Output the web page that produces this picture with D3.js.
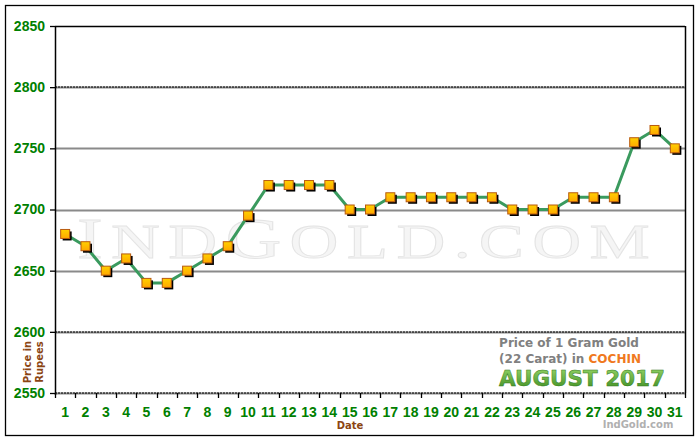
<!DOCTYPE html>
<html><head><meta charset="utf-8">
<script src="https://cdn.jsdelivr.net/npm/d3@7"></script>
<style>body{margin:0;background:#fff;}svg{display:block;}</style>
</head><body>
<svg id="c" width="700" height="440"></svg>
<script>
const days = d3.range(1, 32).map(String);
const prices = [2680,2670,2650,2660,2640,2640,2650,2660,2670,2695,2720,2720,2720,2720,2700,2700,2710,2710,2710,2710,2710,2710,2700,2700,2700,2710,2710,2710,2755,2765,2750];
const yTicks = [2550,2600,2650,2700,2750,2800,2850];
const dottedTicks = [2550,2600,2800];

const svg = d3.select("#c");
const L = 55, R = 685, T = 26, B = 393;
const x = d3.scaleBand().domain(days).range([L, R]).padding(0);
const y = d3.scaleLinear().domain([2550, 2850]).range([B, T]);
const af = "Liberation Sans, Arial, sans-serif";
const tf = "DejaVu Sans, Verdana, sans-serif";

// outer border
svg.append("rect").attr("x",5.5).attr("y",5.5).attr("width",688).attr("height",430)
  .attr("fill","#fff").attr("stroke","#000").attr("stroke-width",1.3);

// watermark
const wm = svg.append("text").attr("x",77).attr("y",258)
  .attr("font-family","Liberation Serif, DejaVu Serif, serif")
  .attr("fill","#f5f5f5").attr("stroke","#e4e4e4").attr("stroke-width",0.8)
  .attr("letter-spacing",6)
  .attr("textLength",581).attr("lengthAdjust","spacingAndGlyphs");
[["I",56],["ND",49],["G",56],["OLD.COM",49]].forEach(([t,fs]) => wm.append("tspan").attr("font-size",fs).text(t));

// gridlines
yTicks.filter(v => v !== 2850).forEach(v => {
  const yy = Math.round(y(v)) + 0.5;
  svg.append("line").attr("x1",L).attr("x2",R).attr("y1",yy).attr("y2",yy)
    .attr("stroke","#8a8a8a").attr("stroke-width",2);
  if (dottedTicks.includes(v)) {
    svg.append("line").attr("x1",L).attr("x2",R).attr("y1",yy-0.5).attr("y2",yy-0.5)
      .attr("stroke","#000").attr("stroke-width",1).attr("stroke-dasharray","2,1");
  }
});

// plot frame: top, left, right
svg.append("line").attr("x1",L).attr("x2",R).attr("y1",T+0.5).attr("y2",T+0.5).attr("stroke","#000").attr("stroke-width",1.5);
svg.append("line").attr("x1",L+0.5).attr("x2",L+0.5).attr("y1",T).attr("y2",B+2).attr("stroke","#000").attr("stroke-width",1.5);
svg.append("line").attr("x1",R+0.5).attr("x2",R+0.5).attr("y1",T).attr("y2",B).attr("stroke","#000").attr("stroke-width",1.5);

// y axis
const yAxis = d3.axisLeft(y).tickValues(yTicks).tickSize(5).tickPadding(5).tickFormat(d3.format("d"));
const gy = svg.append("g").attr("transform",`translate(${L},0)`).call(yAxis);
gy.select(".domain").remove();
gy.selectAll(".tick line").attr("stroke","#000").attr("stroke-width",1.3);
gy.selectAll("text").attr("fill","#008000").attr("font-family",af)
  .attr("font-size",14).attr("font-weight","bold");

// x axis: ticks at band boundaries
svg.selectAll(".xt").data(days.concat(["end"])).enter().append("line")
  .attr("x1", (d,i) => Math.round(L + i * x.step()) + 0.5)
  .attr("x2", (d,i) => Math.round(L + i * x.step()) + 0.5)
  .attr("y1", B).attr("y2", B + 5).attr("stroke","#000").attr("stroke-width",1.3);
svg.selectAll(".xl").data(days).enter().append("text")
  .attr("x", d => x(d) + x.bandwidth()/2).attr("y", 417).attr("text-anchor","middle")
  .attr("fill","#008000").attr("font-family",af)
  .attr("font-size",14).attr("font-weight","bold").text(d => d);

// axis titles
svg.append("text").attr("x",350).attr("y",429).attr("text-anchor","middle")
  .attr("fill","#8b4513").attr("font-family",tf)
  .attr("font-size",10).attr("font-weight","bold").text("Date");
const yt = svg.append("text")
  .attr("fill","#8b4513").attr("font-family",tf)
  .attr("font-size",10).attr("font-weight","bold").attr("text-anchor","middle");
yt.append("tspan").attr("x",0).attr("y",0).text("Price in");
yt.append("tspan").attr("x",0).attr("y",12).text("Rupees");
yt.attr("transform","translate(31,362) rotate(-90)");

// title box (lower right)
svg.append("text").attr("x",569).attr("y",347).attr("text-anchor","middle")
  .attr("fill","#808080").attr("font-family",tf).attr("font-size",12).attr("font-weight","bold")
  .text("Price of 1 Gram Gold");
const t2 = svg.append("text").attr("x",570).attr("y",363).attr("text-anchor","middle")
  .attr("font-family",tf).attr("font-size",12).attr("font-weight","bold");
t2.append("tspan").attr("fill","#808080").text("(22 Carat) in ");
t2.append("tspan").attr("fill","#f07820").text("COCHIN");
const defs = svg.append("defs");
const gg = defs.append("linearGradient").attr("id","gg").attr("x1",0).attr("x2",0).attr("y1",0).attr("y2",1);
gg.append("stop").attr("offset","0%").attr("stop-color","#9ad86a");
gg.append("stop").attr("offset","100%").attr("stop-color","#3a8a20");
svg.append("text").attr("x",499).attr("y",386)
  .attr("fill","url(#gg)").attr("stroke","#2f7a1c").attr("stroke-width",0.5)
  .attr("font-family","DejaVu Sans, sans-serif").attr("font-size",22).attr("font-weight","bold")
  .attr("textLength",166).attr("lengthAdjust","spacingAndGlyphs")
  .text("AUGUST 2017");
svg.append("text").attr("x",638).attr("y",428).attr("text-anchor","middle")
  .attr("fill","#b0b0b0").attr("font-family",tf).attr("font-size",10).attr("font-weight","bold")
  .text("IndGold.com");

// line
const pts = days.map((d,i) => ({d, v: prices[i]}));
const line = d3.line().x(p => x(p.d) + x.bandwidth()/2).y(p => y(p.v));
svg.append("path").datum(pts).attr("d", line).attr("fill","none")
  .attr("stroke","#3a9a5e").attr("stroke-width",3).attr("stroke-linejoin","round");

// markers with shadow
const mg = defs.append("linearGradient").attr("id","mg").attr("x1",0).attr("x2",0).attr("y1",0).attr("y2",1);
mg.append("stop").attr("offset","0%").attr("stop-color","#ffd000");
mg.append("stop").attr("offset","100%").attr("stop-color","#ffa800");
const s = 9;
svg.selectAll(".sh").data(pts).enter().append("rect")
  .attr("x", p => x(p.d) + x.bandwidth()/2 - s/2 + 2).attr("y", p => y(p.v) - s/2 + 2)
  .attr("width", s).attr("height", s).attr("fill","#000");
svg.selectAll(".mk").data(pts).enter().append("rect")
  .attr("x", p => x(p.d) + x.bandwidth()/2 - s/2).attr("y", p => y(p.v) - s/2)
  .attr("width", s).attr("height", s).attr("fill","url(#mg)")
  .attr("stroke","#b85a10").attr("stroke-width",1);
</script>
</body></html>
